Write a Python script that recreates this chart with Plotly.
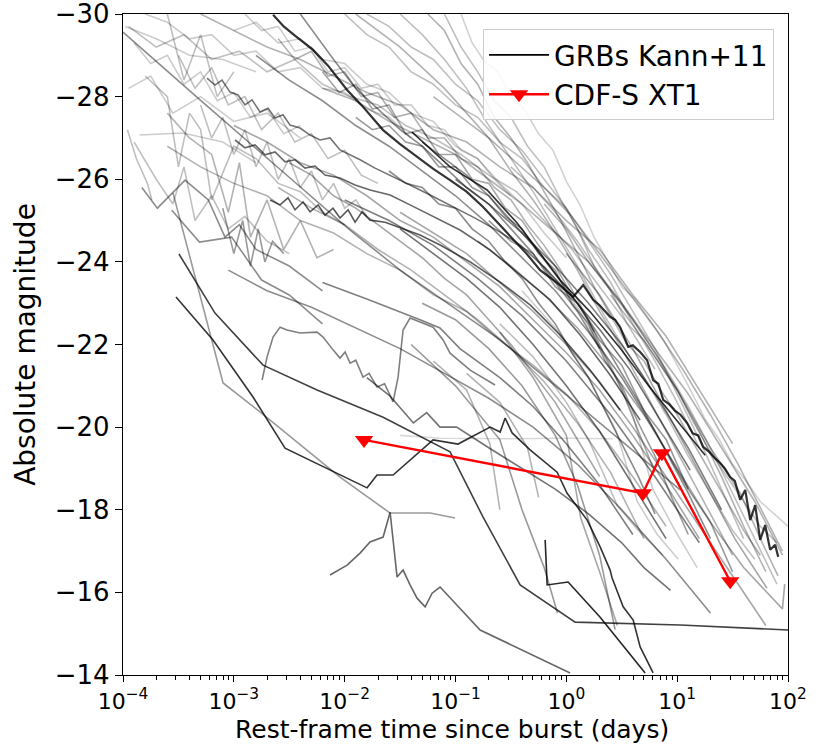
import plotly.graph_objects as go

# ---------------- data ----------------
# CDF-S XT1 (rest-frame days, absolute magnitude)
xt1_t = [0.01496, 4.90, 7.28, 30.1]
xt1_mag = [-19.69, -18.40, -19.37, -16.27]

# GRB light curves (Kann+11): log10(rest-frame days), absolute magnitude
grb_a_lt = [-2.646, -2.55, -2.46, -2.285, -2.15, -1.978, -1.85, -1.653, -1.50, -1.347, -1.20, -1.049, -0.90, -0.751, -0.62, -0.480, -0.36, -0.236, -0.083, 0.061, 0.152, 0.242, 0.30, 0.395, 0.44, 0.486, 0.558, 0.60, 0.666, 0.729, 0.783, 0.83, 0.874, 0.93, 0.98, 1.03, 1.09, 1.14, 1.19, 1.235, 1.29, 1.34, 1.388, 1.43, 1.478, 1.52, 1.569, 1.614, 1.659, 1.704, 1.749, 1.794, 1.839, 1.884, 1.912]
grb_a_mag = [-29.98, -29.70, -29.50, -29.13, -28.75, -28.16, -27.80, -27.19, -26.85, -26.54, -26.25, -25.98, -25.70, -25.33, -24.95, -24.53, -24.20, -23.80, -23.49, -23.15, -23.44, -23.08, -22.95, -22.67, -22.60, -22.42, -21.94, -21.98, -21.82, -21.62, -21.14, -21.05, -20.66, -20.55, -20.40, -20.30, -20.10, -19.85, -19.80, -19.52, -19.40, -19.25, -19.13, -19.00, -18.79, -18.70, -18.24, -18.48, -17.75, -18.11, -17.27, -17.63, -17.03, -17.15, -16.86]
grb_b_lt = [-1.392, -1.049, -0.715, -0.444, -0.236, -0.056, 0.215, 0.486, 0.756, 1.027, 1.253]
grb_b_mag = [-27.14, -26.30, -25.74, -24.94, -24.21, -23.56, -22.79, -21.91, -20.95, -20.05, -19.32]
grb_c1_lt = [-3.522, -3.188, -2.827, -2.538, -1.798, -1.708, -1.563, -1.202, -0.977, -0.688, -0.597, -0.552, -0.489, -0.327, -0.083, 0.007, 0.188, 0.305, 0.395, 0.413, 0.513, 0.603, 0.666, 0.783]
grb_c1_mag = [-23.15, -22.11, -20.73, -19.49, -18.53, -18.84, -18.84, -19.69, -19.59, -20.00, -19.88, -20.22, -19.86, -19.45, -18.91, -18.40, -17.75, -17.10, -16.54, -16.35, -15.65, -15.33, -14.68, -14.05]
grb_c2_lt = [-3.495, -3.170, -2.736, -2.249, -1.653, -1.049, -0.751, -0.417, 0.079, 1.027, 2.0]
grb_c2_mag = [-24.19, -22.76, -21.50, -20.90, -20.24, -19.40, -17.82, -16.18, -15.28, -15.21, -15.09]
grb_c3_lt = [-3.549, -3.097, -2.764, -2.042, -1.590, -1.229, -1.004]
grb_c3_mag = [-25.67, -21.07, -20.37, -18.79, -17.92, -17.92, -17.80]
grb_c4_lt = [-2.132, -1.978, -1.861, -1.771, -1.653, -1.590, -1.527, -1.473, -1.410, -1.347, -1.274, -1.211, -1.139, -0.778, 0.034]
grb_c4_mag = [-16.42, -16.66, -16.95, -17.22, -17.34, -17.94, -16.37, -16.54, -16.18, -15.86, -15.65, -15.98, -16.13, -15.09, -14.05]
grb_c5_lt = [-0.191, -0.173, 0.016, 0.305, 0.711]
grb_c5_mag = [-17.27, -16.18, -16.25, -15.40, -14.05]
grb_c6_lt = [-2.745, -2.700, -2.646, -2.583, -2.520, -2.403, -2.249, -2.195, -2.105, -2.042, -1.996, -1.951, -1.90, -1.834, -1.78, -1.708, -1.64, -1.563, -1.518, -1.473, -1.410, -1.320, -1.202, -1.112, -1.049, -0.868, -0.643]
grb_c6_mag = [-21.14, -21.70, -22.18, -22.42, -22.35, -22.28, -22.30, -22.18, -21.87, -21.67, -21.82, -21.55, -21.62, -21.21, -21.30, -20.97, -21.05, -20.61, -21.21, -22.35, -22.64, -22.54, -22.42, -22.11, -21.79, -21.38, -21.02]
grb_n1_lt = [-3.242, -3.170, -3.107, -3.034, -2.962, -2.899, -2.836, -2.764, -2.691, -2.628, -2.556, -2.493, -2.403, -2.312, -2.222, -2.132, -2.042, -1.951, -1.861, -1.726, -1.590, -1.410, -1.229, -1.049, -0.823, -0.597, -0.417, -0.191, 0.034, 0.305, 0.576, 0.847, 1.117]
grb_n1_mag = [-28.45, -28.28, -28.40, -28.11, -28.04, -27.80, -27.92, -27.63, -27.72, -27.48, -27.56, -27.31, -27.24, -27.07, -26.95, -27.00, -26.71, -26.59, -26.47, -26.27, -26.10, -25.86, -25.62, -25.38, -25.06, -24.72, -24.41, -23.85, -23.20, -22.35, -21.38, -20.17, -18.96]
grb_n2_lt = [-2.989, -2.899, -2.809, -2.718, -2.628, -2.538, -2.448, -2.357, -2.267, -2.177, -2.042, -1.906, -1.771, -1.590, -1.410, -1.229, -0.959, -0.688, -0.417, -0.146, 0.125, 0.395, 0.666]
grb_n2_mag = [-26.95, -26.76, -26.83, -26.59, -26.66, -26.42, -26.47, -26.27, -26.32, -26.10, -26.03, -25.86, -25.74, -25.62, -25.38, -25.13, -24.77, -24.29, -23.68, -23.08, -22.23, -21.26, -20.17]
grb_n3_lt = [-2.673, -2.583, -2.511, -2.448, -2.375, -2.312, -2.240, -2.177, -2.105, -2.042, -1.969, -1.906, -1.843, -1.771, -1.635, -1.500, -1.320, -1.139, -0.868, -0.597, -0.327, -0.056, 0.215, 0.486]
grb_n3_mag = [-25.50, -25.38, -25.55, -25.26, -25.45, -25.21, -25.38, -25.13, -25.30, -25.06, -25.26, -24.96, -25.21, -25.01, -24.96, -24.82, -24.65, -24.41, -24.00, -23.51, -22.96, -22.23, -21.38, -20.41]
grb_g_lt = [-4.0, -3.305, -2.493, -1.951, -1.500, -1.049, -0.597, -0.056, 0.486, 1.027]
grb_g_mag = [-29.56, -27.92, -26.03, -24.77, -23.80, -22.96, -22.11, -20.90, -19.69, -18.48]

grb_u1_lt = [-0.95, -0.85, -0.75, -0.62, -0.5, -0.38, -0.25, -0.12, 0.0, 0.12, 0.25, 0.38, 0.5, 0.62, 0.75, 0.88, 1.0, 1.12, 1.25, 1.38, 1.5, 1.62, 1.75, 1.88, 2.0]
grb_u1_mag = [-30.0, -29.3, -28.9, -28.6, -28.0, -27.7, -27.1, -26.7, -25.95, -25.4, -24.6, -24.0, -23.4, -23.1, -22.6, -22.1, -21.5, -20.9, -20.2, -19.7, -19.1, -18.7, -18.2, -17.9, -17.6]
grb_u2_lt = [-1.1, -0.95, -0.8, -0.65, -0.5, -0.35, -0.2, -0.05, 0.1, 0.25, 0.4, 0.55, 0.7, 0.85, 1.0, 1.15, 1.3, 1.45, 1.6, 1.75, 1.9]
grb_u2_mag = [-30.0, -29.2, -28.6, -27.9, -27.5, -26.8, -26.3, -25.5, -24.8, -23.9, -23.3, -22.5, -22.1, -21.5, -20.9, -20.1, -19.4, -18.8, -18.2, -17.6, -17.2]
grb_u3_lt = [-1.25, -1.1, -0.95, -0.8, -0.65, -0.5, -0.35, -0.2, -0.05, 0.1, 0.25, 0.4, 0.55, 0.7, 0.85, 1.0, 1.15, 1.3, 1.45, 1.6, 1.75]
grb_u3_mag = [-30.0, -29.6, -28.8, -28.3, -27.5, -27.0, -26.4, -25.7, -25.0, -24.2, -23.4, -22.7, -22.0, -21.6, -20.9, -20.3, -19.6, -18.9, -18.2, -17.5, -16.9]
grb_u4_lt = [-1.5, -1.3, -1.1, -0.9, -0.7, -0.5, -0.3, -0.1, 0.1, 0.3, 0.5, 0.7, 0.9, 1.1, 1.3, 1.5, 1.7]
grb_u4_mag = [-30.0, -29.5, -28.9, -28.2, -27.3, -26.5, -25.7, -24.8, -23.9, -22.9, -22.0, -21.2, -20.3, -19.3, -18.4, -17.5, -16.8]
grb_u5_lt = [-1.9, -1.7, -1.5, -1.3, -1.1, -0.9, -0.7, -0.5, -0.3, -0.1, 0.1, 0.3, 0.5, 0.7, 0.9, 1.1, 1.3, 1.5]
grb_u5_mag = [-30.0, -29.6, -29.2, -28.7, -28.2, -27.6, -27.0, -26.2, -25.5, -24.7, -23.8, -22.8, -21.9, -20.9, -19.9, -18.9, -17.9, -16.9]

grb_l01_lt = [-3.95, -3.7, -3.45, -3.2, -2.95, -2.7, -2.45, -2.2, -1.95, -1.7, -1.45, -1.2, -0.95, -0.7, -0.45, -0.2, 0.05, 0.3, 0.55, 0.8]
grb_l01_mag = [-29.7, -29.2, -29.5, -28.9, -29.1, -28.6, -28.9, -28.3, -28.0, -27.8, -27.3, -27.0, -26.6, -26.1, -25.7, -25.0, -24.3, -23.4, -22.5, -21.4]
grb_l02_lt = [-3.3, -3.0, -2.7, -2.4, -2.1, -1.8, -1.5, -1.2, -0.9, -0.6, -0.3, 0.0, 0.3, 0.6, 0.9, 1.2, 1.5]
grb_l02_mag = [-30.0, -29.6, -29.2, -28.9, -28.5, -28.1, -27.8, -27.2, -26.9, -26.3, -25.8, -25.0, -24.3, -23.2, -22.2, -20.9, -19.6]
grb_l06_lt = [-2.0, -1.8, -1.6, -1.4, -1.2, -1.0, -0.8, -0.6, -0.4, -0.2, 0.0, 0.2, 0.4, 0.6, 0.8, 1.0, 1.2]
grb_l06_mag = [-30.0, -29.5, -29.2, -28.6, -28.3, -27.8, -27.5, -26.9, -26.5, -25.8, -25.3, -24.3, -23.5, -22.5, -21.6, -20.6, -19.5]
grb_l08_lt = [-2.4, -2.1, -1.9, -1.7, -1.5, -1.3, -1.1, -0.9, -0.7, -0.5, -0.3, -0.1, 0.1, 0.3]
grb_l08_mag = [-30.0, -28.9, -28.2, -27.7, -27.2, -26.8, -26.3, -25.8, -25.4, -24.8, -24.2, -23.5, -22.8, -21.9]
grb_l09_lt = [-3.6, -3.3, -3.0, -2.7, -2.4, -2.1, -1.8, -1.5, -1.2, -0.9, -0.6, -0.3, 0.0, 0.3, 0.6, 0.9]
grb_l09_mag = [-26.8, -26.3, -25.9, -25.6, -25.0, -24.7, -24.2, -23.8, -23.2, -22.8, -22.1, -21.5, -20.8, -19.9, -18.8, -17.6]
grb_l10_lt = [-3.0, -2.7, -2.4, -2.1, -1.8, -1.5, -1.2, -0.9, -0.6, -0.3, 0.0, 0.3, 0.6, 0.9, 1.2]
grb_l10_mag = [-27.3, -26.9, -26.4, -26.1, -25.6, -25.0, -24.6, -24.0, -23.4, -22.6, -21.8, -20.9, -19.8, -18.6, -17.3]
grb_l11_lt = [-2.2, -1.9, -1.6, -1.3, -1.0, -0.7, -0.4, -0.1, 0.2, 0.5, 0.8, 1.1, 1.4, 1.7, 1.95]
grb_l11_mag = [-28.2, -27.9, -27.4, -27.0, -26.6, -26.0, -25.4, -24.7, -24.0, -23.0, -21.9, -20.8, -19.5, -18.2, -16.9]
grb_l12_lt = [-1.2, -0.95, -0.7, -0.45, -0.2, 0.05, 0.3, 0.55, 0.8, 1.05, 1.3, 1.55, 1.8, 1.95]
grb_l12_mag = [-28.0, -27.5, -27.0, -26.4, -25.8, -25.1, -24.2, -23.3, -22.4, -21.4, -20.3, -19.1, -17.8, -17.0]
grb_l13_lt = [-0.5, -0.3, -0.1, 0.1, 0.3, 0.5, 0.7, 0.9, 1.1, 1.3, 1.5, 1.7, 1.9]
grb_l13_mag = [-26.3, -25.8, -25.2, -24.5, -23.7, -23.0, -22.2, -21.4, -20.5, -19.5, -18.4, -17.3, -16.2]
grb_l14_lt = [-0.2, 0.0, 0.2, 0.4, 0.6, 0.8, 1.0, 1.2, 1.4, 1.6, 1.8]
grb_l14_mag = [-25.4, -24.8, -24.0, -23.3, -22.6, -21.8, -20.9, -19.9, -18.8, -17.6, -16.5]
grb_l15_lt = [-0.8, -0.5, -0.2, 0.1, 0.4, 0.7, 1.0, 1.3, 1.6, 1.95, 1.97]
grb_l15_mag = [-24.5, -23.9, -23.2, -22.4, -21.4, -20.3, -19.0, -17.7, -16.6, -15.6, -16.2]
grb_l16_lt = [-1.5, -1.2, -0.9, -0.6, -0.3, 0.0, 0.3, 0.6, 0.9, 1.2, 1.5, 1.8]
grb_l16_mag = [-25.2, -24.7, -24.2, -23.5, -22.8, -22.0, -21.1, -20.0, -18.8, -17.6, -16.4, -15.2]
grb_l17_lt = [-2.6, -2.3, -2.0, -1.7, -1.4, -1.1, -0.8, -0.5, -0.2, 0.1, 0.4, 0.7]
grb_l17_mag = [-25.8, -25.3, -24.9, -24.3, -23.8, -23.2, -22.6, -21.9, -21.1, -20.1, -18.9, -17.3]
grb_l18_lt = [-1.3, -1.0, -0.7, -0.4, -0.1, 0.1, 0.3, 0.44]
grb_l18_mag = [-23.0, -22.6, -21.9, -21.0, -19.8, -18.6, -16.9, -15.1]
grb_l19_lt = [-0.6, -0.3, 0.0, 0.2, 0.46, 0.65, 0.87]
grb_l19_mag = [-22.5, -21.7, -20.6, -19.7, -18.1, -17.5, -16.9]
grb_l20_lt = [-0.4, -0.1, 0.2, 0.45, 0.64, 0.82, 1.01]
grb_l20_mag = [-23.3, -22.4, -21.2, -19.9, -18.2, -17.4, -16.8]
grb_l21_lt = [-0.2, 0.1, 0.4, 0.6, 0.78, 0.98, 1.18]
grb_l21_mag = [-23.9, -22.9, -21.5, -20.3, -18.5, -17.5, -16.6]
grb_l22_lt = [0.0, 0.3, 0.6, 0.9, 1.24, 1.52, 1.81]
grb_l22_mag = [-24.2, -23.2, -21.9, -20.4, -18.7, -17.3, -16.1]
grb_l23_lt = [0.4, 0.7, 1.0, 1.3, 1.57, 1.75, 1.91]
grb_l23_mag = [-23.2, -22.1, -20.9, -19.5, -18.4, -17.3, -16.4]
grb_l25_lt = [-1.8, -1.59, -1.38, -1.26, -1.14, -0.99, -0.7, -0.4, -0.1, 0.2, 0.5, 0.7, 0.94]
grb_l25_mag = [-21.2, -20.75, -20.1, -20.35, -20.0, -20.0, -19.5, -19.0, -18.5, -17.9, -17.2, -16.6, -16.05]
grb_l26_lt = [-1.4, -1.0, -0.6, -0.4, -0.2, -0.08]
grb_l26_mag = [-22.0, -21.0, -19.7, -18.0, -16.6, -15.5]
grb_l27_lt = [-0.6, -0.3, 0.0, 0.13, 0.3, 0.46]
grb_l27_mag = [-22.3, -21.2, -19.8, -17.8, -16.5, -15.2]
grb_l28_lt = [-3.96, -3.88, -3.78, -3.74]
grb_l28_mag = [-27.2, -26.5, -25.9, -25.5]
grb_l29_lt = [-3.9, -3.7, -3.55, -3.45, -3.35, -3.2, -3.05, -2.9, -2.7, -2.5]
grb_l29_mag = [-26.9, -26.0, -25.4, -26.3, -25.0, -25.6, -24.8, -25.1, -24.5, -24.2]
grb_l30_lt = [-3.8, -3.6, -3.5, -3.4, -3.3, -3.2, -3.0, -2.8, -2.6, -2.4, -2.2, -2.0]
grb_l30_mag = [-28.5, -28.0, -26.3, -27.6, -27.2, -25.5, -26.8, -26.5, -25.9, -25.7, -25.2, -24.9]
grb_l31_lt = [-3.6, -3.4, -3.2, -3.05, -2.95, -2.85, -2.7, -2.55, -2.4, -2.25, -2.1]
grb_l31_mag = [-27.6, -27.0, -26.6, -25.2, -26.4, -24.6, -25.5, -24.3, -25.0, -24.1, -24.3]
grb_l32_lt = [-3.83, -3.69, -3.44, -3.23, -3.08, -2.95, -2.8, -2.5, -2.2]
grb_l32_mag = [-25.8, -25.3, -25.98, -25.5, -24.6, -24.9, -24.3, -23.9, -23.3]
grb_l33_lt = [-3.56, -3.31, -3.02, -2.75, -2.5, -2.2]
grb_l33_mag = [-25.25, -24.48, -24.6, -23.56, -23.2, -22.5]
grb_l34_lt = [-3.1, -3.0, -2.92, -2.85, -2.78, -2.72, -2.65, -2.55]
grb_l34_mag = [-25.3, -24.2, -25.0, -23.9, -24.8, -24.0, -24.5, -24.2]
grb_l35_lt = [-3.98, -3.7, -3.4, -3.1, -2.8]
grb_l35_mag = [-29.7, -29.4, -29.0, -28.9, -28.6]
grb_l36_lt = [-3.95, -3.75, -3.55, -3.3, -3.0, -2.7, -2.4]
grb_l36_mag = [-28.2, -28.5, -27.6, -28.0, -27.4, -27.6, -27.0]
grb_l37_lt = [-3.6, -3.45, -3.3, -3.15, -3.0]
grb_l37_mag = [-30.0, -28.4, -29.5, -28.0, -28.6]
grb_l38_lt = [-3.0, -2.8, -2.6, -2.4, -2.2, -2.0, -1.8, -1.6, -1.4, -1.2, -1.0, -0.8, -0.6, -0.4, -0.2, 0.0]
grb_l38_mag = [-29.6, -29.8, -29.3, -29.4, -28.9, -28.8, -28.3, -28.1, -27.6, -27.4, -26.8, -26.5, -25.9, -25.4, -24.7, -24.1]
grb_l39_lt = [-1.8, -1.6, -1.4, -1.2, -1.0, -0.8, -0.6, -0.4, -0.2, 0.0, 0.2, 0.4, 0.6, 0.8, 1.0, 1.2, 1.4, 1.6]
grb_l39_mag = [-30.0, -29.7, -29.2, -28.9, -28.3, -27.9, -27.2, -26.7, -26.0, -25.3, -24.5, -23.7, -22.8, -21.9, -20.8, -19.7, -18.5, -17.3]
grb_l40_lt = [-2.8, -2.5, -2.2, -1.9, -1.6, -1.3, -1.0, -0.7, -0.4, -0.1, 0.2, 0.5, 0.8, 1.1]
grb_l40_mag = [-29.0, -28.4, -27.9, -27.3, -26.8, -26.2, -25.6, -24.9, -24.1, -23.3, -22.3, -21.2, -19.9, -18.5]
grb_l41_lt = [-1.5, -1.14, -0.5, 0.0, 0.42]
grb_l41_mag = [-19.8, -19.73, -19.72, -19.73, -19.72]
grb_l42_lt = [-1.2, -0.9, -0.69, -0.6]
grb_l42_mag = [-21.6, -20.9, -19.6, -18.0]
grb_l43_lt = [-0.9, -0.6, -0.35, -0.25]
grb_l43_mag = [-21.3, -20.6, -19.5, -18.3]
grb_l44_lt = [-3.85, -3.46, -3.1, -2.8]
grb_l44_mag = [-27.07, -27.12, -26.9, -26.4]
grb_m1_lt = [-3.05, -2.7, -2.3, -1.9, -1.5, -1.1, -0.7, -0.3, 0.1, 0.5, 0.9, 1.3]
grb_m1_mag = [-23.8, -23.3, -22.9, -22.4, -21.9, -21.3, -20.7, -20.0, -19.1, -18.0, -16.8, -15.5]
grb_m2_lt = [-1.5, -1.2, -0.9, -0.6, -0.3, 0.0, 0.3, 0.6, 0.9]
grb_m2_mag = [-24.8, -24.2, -23.6, -22.9, -22.0, -21.0, -19.9, -18.6, -17.3]
grb_m3_lt = [-2.0, -1.6, -1.2, -0.8, -0.4, 0.0, 0.4, 0.8, 1.2]
grb_m3_mag = [-25.5, -25.0, -24.4, -23.6, -22.7, -21.6, -20.3, -18.8, -17.2]
grb_m4_lt = [-1.0, -0.7, -0.4, -0.1, 0.2, 0.5, 0.8, 1.1, 1.4]
grb_m4_mag = [-26.0, -25.4, -24.7, -23.9, -23.0, -22.0, -20.8, -19.5, -18.0]
grb_m5_lt = [-2.2, -1.8, -1.32, -1.14, -0.96, -0.6, -0.3, 0.0, 0.3, 0.6]
grb_m5_mag = [-23.5, -23.1, -22.6, -22.4, -21.9, -21.2, -20.5, -19.6, -18.6, -17.4]

grb_p1_lt = [-3.9, -3.75, -3.6, -3.45, -3.3, -3.15, -3.0, -2.85, -2.7, -2.55, -2.4]
grb_p1_mag = [-29.3, -28.8, -29.0, -28.3, -28.6, -27.9, -28.1, -27.5, -27.7, -27.1, -27.3]
grb_p2_lt = [-3.5, -3.35, -3.2, -3.05, -2.9, -2.75, -2.6, -2.45, -2.3, -2.15, -2.0, -1.85, -1.7]
grb_p2_mag = [-29.0, -28.2, -28.7, -27.8, -28.0, -27.2, -27.6, -26.9, -27.1, -26.5, -26.7, -26.1, -25.9]
grb_p3_lt = [-3.3, -3.2, -3.1, -3.0, -2.9, -2.8, -2.7, -2.6, -2.5, -2.4, -2.3, -2.2, -2.1, -2.0, -1.9, -1.8]
grb_p3_mag = [-27.8, -27.0, -27.5, -26.6, -27.2, -26.3, -26.9, -26.0, -26.5, -25.8, -26.2, -25.5, -25.9, -25.3, -25.5, -25.1]
grb_p4_lt = [-2.9, -2.75, -2.6, -2.45, -2.3, -2.15, -2.0, -1.85, -1.7, -1.55, -1.4, -1.25, -1.1, -0.95, -0.8, -0.65, -0.5]
grb_p4_mag = [-30.0, -29.6, -29.7, -29.1, -29.2, -28.6, -28.7, -28.2, -28.3, -27.8, -27.8, -27.3, -27.2, -26.7, -26.5, -26.0, -25.6]
grb_p5_lt = [-2.6, -2.45, -2.3, -2.15, -2.0, -1.85, -1.7, -1.55, -1.4, -1.25, -1.1, -0.95, -0.8, -0.65, -0.5, -0.35, -0.2, -0.05, 0.1, 0.25]
grb_p5_mag = [-29.4, -28.9, -29.1, -28.5, -28.6, -28.0, -28.1, -27.5, -27.6, -27.0, -27.0, -26.5, -26.3, -25.8, -25.5, -24.9, -24.4, -23.8, -23.1, -22.3]
grb_p6_lt = [-2.2, -2.05, -1.9, -1.75, -1.6, -1.45, -1.3, -1.15, -1.0, -0.85, -0.7, -0.55, -0.4, -0.25, -0.1, 0.05, 0.2, 0.35, 0.5, 0.65, 0.8]
grb_p6_mag = [-28.6, -28.1, -28.3, -27.7, -27.8, -27.1, -27.2, -26.6, -26.6, -26.0, -25.9, -25.3, -25.0, -24.4, -23.9, -23.2, -22.6, -21.7, -20.9, -19.9, -18.9]
grb_p7_lt = [-1.9, -1.75, -1.6, -1.45, -1.3, -1.15, -1.0, -0.85, -0.7, -0.55, -0.4, -0.25, -0.1, 0.05, 0.2, 0.35, 0.5, 0.65, 0.8, 0.95, 1.1]
grb_p7_mag = [-27.5, -27.2, -27.3, -26.9, -26.8, -26.3, -26.3, -25.8, -25.6, -25.1, -24.8, -24.2, -23.8, -23.0, -22.5, -21.6, -21.0, -20.1, -19.3, -18.3, -17.4]
grb_p8_lt = [-1.6, -1.45, -1.3, -1.15, -1.0, -0.85, -0.7, -0.55, -0.4, -0.25, -0.1, 0.05, 0.2, 0.35, 0.5, 0.65, 0.8]
grb_p8_mag = [-26.2, -25.9, -25.8, -25.4, -25.3, -24.8, -24.5, -24.0, -23.6, -23.0, -22.5, -21.8, -21.2, -20.4, -19.6, -18.8, -17.9]
grb_p9_lt = [-2.5, -2.3, -2.1, -1.9, -1.7, -1.5, -1.3, -1.1, -0.9, -0.7, -0.5, -0.3, -0.1, 0.1, 0.3]
grb_p9_mag = [-26.4, -26.1, -25.6, -25.3, -24.9, -24.5, -24.1, -23.6, -23.2, -22.6, -22.0, -21.3, -20.6, -19.7, -18.8]
grb_p10_lt = [-3.8, -3.6, -3.4, -3.2, -3.0, -2.8, -2.6, -2.4, -2.2, -2.0, -1.8, -1.6, -1.4]
grb_p10_mag = [-30.0, -29.8, -29.4, -29.5, -29.0, -29.1, -28.6, -28.7, -28.2, -28.1, -27.7, -27.5, -27.0]
grb_q1_lt = [-1.3, -1.1, -0.9, -0.7, -0.5, -0.3, -0.1, 0.1, 0.3, 0.5, 0.7, 0.9, 1.1, 1.3]
grb_q1_mag = [-26.9, -26.5, -26.1, -25.6, -25.0, -24.4, -23.7, -23.0, -22.2, -21.3, -20.4, -19.4, -18.4, -17.3]
grb_q2_lt = [-0.7, -0.5, -0.3, -0.1, 0.1, 0.3, 0.5, 0.7, 0.9, 1.1, 1.3, 1.5]
grb_q2_mag = [-25.0, -24.5, -24.2, -23.4, -23.0, -22.1, -21.5, -20.4, -19.7, -18.5, -17.7, -16.5]

grb_curves = [
    (grb_a_lt, grb_a_mag), (grb_b_lt, grb_b_mag), (grb_c1_lt, grb_c1_mag), (grb_c2_lt, grb_c2_mag),
    (grb_c3_lt, grb_c3_mag), (grb_c4_lt, grb_c4_mag), (grb_c5_lt, grb_c5_mag), (grb_c6_lt, grb_c6_mag),
    (grb_n1_lt, grb_n1_mag), (grb_n2_lt, grb_n2_mag), (grb_n3_lt, grb_n3_mag), (grb_g_lt, grb_g_mag),
    (grb_u1_lt, grb_u1_mag), (grb_u2_lt, grb_u2_mag), (grb_u3_lt, grb_u3_mag), (grb_u4_lt, grb_u4_mag),
    (grb_u5_lt, grb_u5_mag),
    (grb_l01_lt, grb_l01_mag), (grb_l02_lt, grb_l02_mag), (grb_l06_lt, grb_l06_mag), (grb_l08_lt, grb_l08_mag),
    (grb_l09_lt, grb_l09_mag), (grb_l10_lt, grb_l10_mag), (grb_l11_lt, grb_l11_mag), (grb_l12_lt, grb_l12_mag),
    (grb_l13_lt, grb_l13_mag), (grb_l14_lt, grb_l14_mag), (grb_l15_lt, grb_l15_mag), (grb_l16_lt, grb_l16_mag),
    (grb_l17_lt, grb_l17_mag), (grb_l18_lt, grb_l18_mag), (grb_l19_lt, grb_l19_mag), (grb_l20_lt, grb_l20_mag),
    (grb_l21_lt, grb_l21_mag), (grb_l22_lt, grb_l22_mag), (grb_l23_lt, grb_l23_mag), (grb_l25_lt, grb_l25_mag),
    (grb_l26_lt, grb_l26_mag), (grb_l27_lt, grb_l27_mag), (grb_l28_lt, grb_l28_mag), (grb_l29_lt, grb_l29_mag),
    (grb_l30_lt, grb_l30_mag), (grb_l31_lt, grb_l31_mag), (grb_l32_lt, grb_l32_mag), (grb_l33_lt, grb_l33_mag),
    (grb_l34_lt, grb_l34_mag), (grb_l35_lt, grb_l35_mag), (grb_l36_lt, grb_l36_mag), (grb_l37_lt, grb_l37_mag),
    (grb_l38_lt, grb_l38_mag), (grb_l39_lt, grb_l39_mag), (grb_l40_lt, grb_l40_mag), (grb_l41_lt, grb_l41_mag),
    (grb_l42_lt, grb_l42_mag), (grb_l43_lt, grb_l43_mag), (grb_l44_lt, grb_l44_mag),
    (grb_m1_lt, grb_m1_mag), (grb_m2_lt, grb_m2_mag), (grb_m3_lt, grb_m3_mag), (grb_m4_lt, grb_m4_mag),
    (grb_m5_lt, grb_m5_mag),
    (grb_p1_lt, grb_p1_mag), (grb_p2_lt, grb_p2_mag), (grb_p3_lt, grb_p3_mag), (grb_p4_lt, grb_p4_mag),
    (grb_p5_lt, grb_p5_mag), (grb_p6_lt, grb_p6_mag), (grb_p7_lt, grb_p7_mag), (grb_p8_lt, grb_p8_mag),
    (grb_p9_lt, grb_p9_mag), (grb_p10_lt, grb_p10_mag), (grb_q1_lt, grb_q1_mag), (grb_q2_lt, grb_q2_mag),
]

# ---------------- styles (one opacity per curve, same order) ----------------
grb_alpha = [0.8, 0.8, 0.8, 0.75, 0.4, 0.6, 0.85, 0.5,
             0.55, 0.6, 0.65, 0.45,
             0.18, 0.25, 0.3, 0.25,
             0.3,
             0.25, 0.3, 0.25, 0.45,
             0.3, 0.35, 0.3, 0.3,
             0.25, 0.3, 0.35, 0.35,
             0.3, 0.4, 0.25, 0.2,
             0.2, 0.35, 0.3, 0.55,
             0.4, 0.35, 0.25, 0.25,
             0.25, 0.3, 0.45, 0.45,
             0.4, 0.2, 0.2, 0.25,
             0.2, 0.25, 0.45, 0.15,
             0.3, 0.3, 0.2,
             0.45, 0.55, 0.5, 0.5,
             0.5,
             0.2, 0.25, 0.25, 0.2,
             0.3, 0.35, 0.4, 0.45,
             0.35, 0.2, 0.45, 0.4]
grb_width = [2.2] + [1.6] * (len(grb_curves) - 1)

FONT = "DejaVu Sans"

fig = go.Figure()
for (lt, mag), a, w in zip(grb_curves, grb_alpha, grb_width):
    fig.add_trace(go.Scatter(
        x=[10 ** v for v in lt], y=mag, mode="lines",
        line=dict(color=f"rgba(0,0,0,{a})", width=w),
        showlegend=False, hoverinfo="skip"))

# legend proxy for the GRB sample
fig.add_trace(go.Scatter(x=[None], y=[None], mode="lines", name="GRBs Kann+11",
                         line=dict(color="black", width=1.6)))

fig.add_trace(go.Scatter(
    x=xt1_t, y=xt1_mag, mode="lines+markers", name="CDF-S XT1",
    line=dict(color="#ff0000", width=2.4),
    marker=dict(symbol="triangle-down", size=16, color="#ff0000")))

x_major = [1e-4, 1e-3, 1e-2, 1e-1, 1e0, 1e1, 1e2]
x_labels = ["10<sup>\u22124</sup>", "10<sup>\u22123</sup>", "10<sup>\u22122</sup>",
            "10<sup>\u22121</sup>", "10<sup>0</sup>", "10<sup>1</sup>", "10<sup>2</sup>"]
x_minor = [m * d for d in x_major[:-1] for m in range(2, 10)]
y_major = [-30, -28, -26, -24, -22, -20, -18, -16, -14]
y_labels = ["\u2212" + str(abs(v)) for v in y_major]

fig.update_layout(
    width=831, height=745,
    margin=dict(l=123, r=43, t=14, b=70),
    paper_bgcolor="white", plot_bgcolor="white",
    font=dict(family=FONT, size=26, color="black"),
    legend=dict(x=0.979, y=0.977, xanchor="right", yanchor="top",
                bgcolor="rgba(255,255,255,0.85)", bordercolor="#cccccc", borderwidth=1,
                font=dict(size=28, family=FONT), itemwidth=60),
    annotations=[dict(text="Rest-frame time since burst (days)", xref="paper", yref="paper",
                      x=0.495, y=-0.0832, xanchor="center", yanchor="middle", showarrow=False,
                      font=dict(size=25, family=FONT, color="black"))],
)
fig.update_xaxes(
    type="log", range=[-4, 2], automargin=False,
    tickvals=x_major, ticktext=x_labels, ticklabeloverflow="allow",
    ticks="outside", ticklen=6, tickwidth=1.3, tickcolor="black",
    minor=dict(tickvals=x_minor, ticks="outside", ticklen=4, tickwidth=1, tickcolor="black"),
    showline=True, linecolor="black", linewidth=1.3, mirror=True,
    showgrid=False, zeroline=False,
    tickfont=dict(size=22, family=FONT),
)
fig.update_yaxes(
    range=[-14, -30], automargin=False,
    tickvals=y_major, ticktext=y_labels, ticklabeloverflow="allow",
    ticks="outside", ticklen=7, tickwidth=1.3, tickcolor="black",
    showline=True, linecolor="black", linewidth=1.3, mirror=True,
    showgrid=False, zeroline=False,
    tickfont=dict(size=26, family=FONT),
    title=dict(text="Absolute magnitude", font=dict(size=28, family=FONT), standoff=10),
)

fig.write_html("out.html")
